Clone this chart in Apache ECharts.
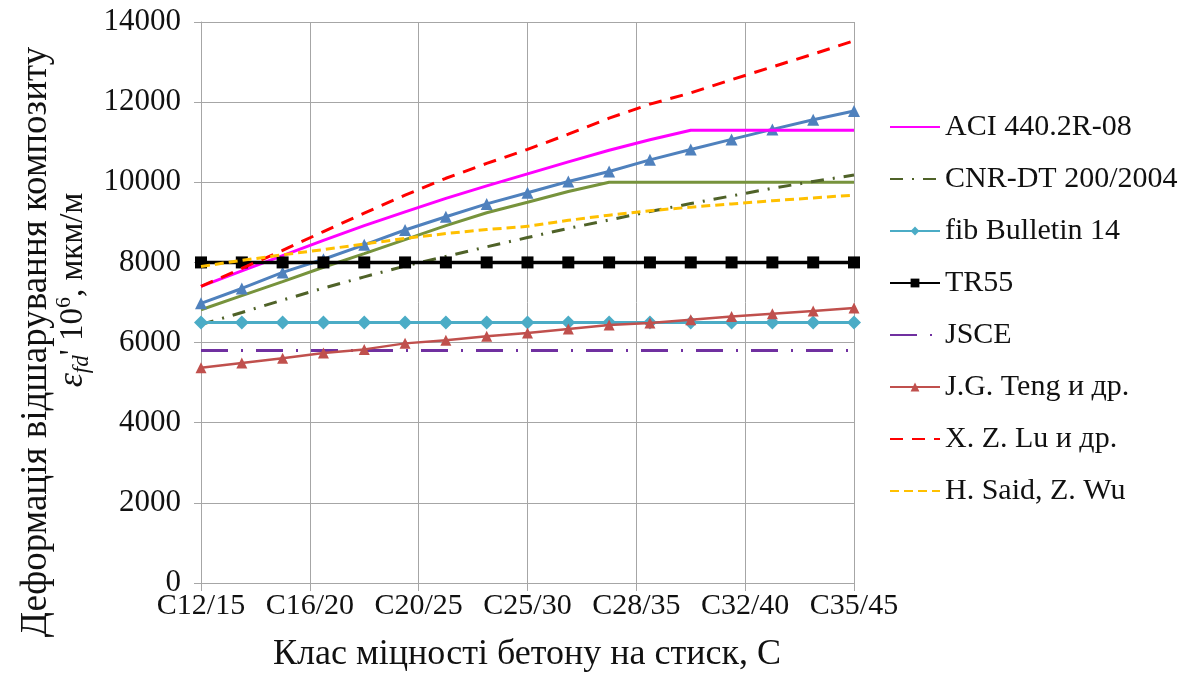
<!DOCTYPE html>
<html>
<head>
<meta charset="utf-8">
<script src="https://cdn.jsdelivr.net/npm/echarts@6/dist/echarts.min.js"></script>
<style>
html,body{margin:0;padding:0;background:#fff;}
#chart{width:1194px;height:691px;}
</style>
</head>
<body>
<div id="chart"></div>
<script>
const categories = ['C12/15','C16/20','C20/25','C25/30','C28/35','C32/40','C35/45'];
const yTicks = [0, 2000, 4000, 6000, 8000, 10000, 12000, 14000];

const aci   = [7400, 7790, 8170, 8550, 8920, 9260, 9600, 9910, 10210, 10510, 10800, 11060, 11300, 11300, 11300, 11300, 11300];
const cnr   = [6450, 6750, 7060, 7360, 7640, 7910, 8150, 8390, 8620, 8850, 9060, 9270, 9470, 9660, 9850, 10020, 10180];
const fib   = [6500, 6500, 6500, 6500, 6500, 6500, 6500, 6500, 6500, 6500, 6500, 6500, 6500, 6500, 6500, 6500, 6500];
const tr55  = [8000, 8000, 8000, 8000, 8000, 8000, 8000, 8000, 8000, 8000, 8000, 8000, 8000, 8000, 8000, 8000, 8000];
const jsce  = [5800, 5800, 5800, 5800, 5800, 5800, 5800, 5800, 5800, 5800, 5800, 5800, 5800, 5800, 5800, 5800, 5800];
const teng  = [5370, 5490, 5610, 5740, 5830, 5980, 6060, 6160, 6240, 6340, 6440, 6490, 6570, 6650, 6720, 6790, 6860];
const lu    = [7400, 7850, 8300, 8770, 9230, 9680, 10100, 10470, 10820, 11200, 11600, 11950, 12230, 12560, 12880, 13200, 13530];
const said  = [7900, 8050, 8190, 8320, 8460, 8600, 8720, 8820, 8900, 9050, 9180, 9290, 9380, 9460, 9540, 9610, 9680];
const blueTri = [6980, 7350, 7750, 8080, 8440, 8810, 9140, 9460, 9740, 10020, 10270, 10560, 10820, 11070, 11320, 11560, 11780];
const green   = [6820, 7170, 7520, 7880, 8220, 8570, 8920, 9240, 9500, 9770, 10000, 10000, 10000, 10000, 10000, 10000, 10000];

const names = ['ACI 440.2R-08','CNR-DT 200/2004','fib Bulletin 14','TR55','JSCE','J.G. Teng и др.','X. Z. Lu и др.','H. Said, Z. Wu'];
const withMarker = {'fib Bulletin 14': true, 'TR55': true, 'J.G. Teng и др.': true};

const xStep = (categories.length - 1) / (aci.length - 1);
const pts = arr => arr.map((v, i) => [i * xStep, v]);

const FONT = 'Liberation Serif';
const chart = echarts.init(document.getElementById('chart'), null, {renderer: 'canvas'});

function line(name, data, color, width, type, symbol, symbolSize, z) {
  return {
    name: name, type: 'line', data: pts(data), z: z,
    lineStyle: {color: color, width: width, type: type},
    itemStyle: {color: color},
    symbol: symbol || 'none', symbolSize: symbolSize || 0,
    showSymbol: !!symbol,
    animation: false, silent: true
  };
}

const legendData = names.map(n => withMarker[n] ? {name: n} : {name: n, itemStyle: {opacity: 0}});

const option = {
  backgroundColor: '#fff',
  animation: false,
  grid: {left: 201, right: 340, top: 22, bottom: 108},
  legend: {
    data: legendData,
    orient: 'vertical',
    left: 884, top: 107,
    itemWidth: 50, itemHeight: 11, itemGap: 22,
    textStyle: {fontFamily: FONT, fontSize: 30, color: '#111', lineHeight: 30}
  },
  xAxis: {
    type: 'value', min: 0, max: categories.length - 1, interval: 1,
    axisLine: {show: true, lineStyle: {color: '#a6a6a6', width: 1}},
    axisTick: {show: true, length: 8, lineStyle: {color: '#a6a6a6'}},
    splitLine: {show: true, lineStyle: {color: '#a6a6a6', width: 1}},
    axisLabel: {
      fontFamily: FONT, fontSize: 30, color: '#111', margin: 8,
      formatter: v => categories[Math.round(v)]
    }
  },
  yAxis: {
    type: 'value', min: yTicks[0], max: yTicks[yTicks.length - 1], interval: 2000,
    axisLine: {show: true, lineStyle: {color: '#a6a6a6', width: 1}},
    axisTick: {show: true, length: 7, lineStyle: {color: '#a6a6a6'}},
    splitLine: {show: true, lineStyle: {color: '#a6a6a6', width: 1}},
    axisLabel: {fontFamily: FONT, fontSize: 31, color: '#111', margin: 20, formatter: v => String(v)}
  },
  series: [
    line('series A', green, '#77933c', 3, 'solid', null, 0, 2),
    line('series B', blueTri, '#4f81bd', 3, 'solid', 'triangle', 12, 3),
    line(names[0], aci, '#ff00ff', 3, 'solid', null, 0, 4),
    line(names[1], cnr, '#4f6228', 3, [13, 9, 2, 9], null, 0, 5),
    line(names[2], fib, '#4bacc6', 3, 'solid', 'diamond', 14, 6),
    line(names[3], tr55, '#000000', 3.5, 'solid', 'rect', 12, 7),
    line(names[4], jsce, '#7030a0', 3, [27, 13, 2, 13], null, 0, 8),
    line(names[5], teng, '#c0504d', 2.5, 'solid', 'triangle', 11, 9),
    line(names[6], lu, '#ff0000', 3, [13, 9], null, 0, 10),
    line(names[7], said, '#ffc000', 3, [9, 5], null, 0, 11)
  ],
  graphic: [
    {
      type: 'text', x: 36, y: 342, rotation: Math.PI / 2,
      style: {
        text: 'Деформація відшарування композиту',
        fontFamily: FONT, fontSize: 37, fill: '#111',
        align: 'center', verticalAlign: 'middle'
      }
    },
    {
      type: 'text', x: 73, y: 290, rotation: Math.PI / 2,
      style: {
        text: '{e|ε}{sub|fd}{b|\' 10}{sup|6}{b|, мкм/м}',
        align: 'center', verticalAlign: 'middle',
        rich: {
          e: {fontFamily: FONT, fontStyle: 'italic', fontSize: 36, fill: '#111', lineHeight: 40, verticalAlign: 'middle'},
          sub: {fontFamily: FONT, fontStyle: 'italic', fontSize: 23, fill: '#111', lineHeight: 16, verticalAlign: 'bottom'},
          b: {fontFamily: FONT, fontSize: 33, fill: '#111', lineHeight: 40, verticalAlign: 'middle'},
          sup: {fontFamily: FONT, fontSize: 22, fill: '#111', lineHeight: 16, verticalAlign: 'top'}
        }
      }
    },
    {
      type: 'text', x: 527, y: 655,
      style: {
        text: 'Клас міцності бетону на стиск, С',
        fontFamily: FONT, fontSize: 36, fill: '#111',
        align: 'center', verticalAlign: 'middle'
      }
    }
  ]
};
chart.setOption(option);
</script>
</body>
</html>
